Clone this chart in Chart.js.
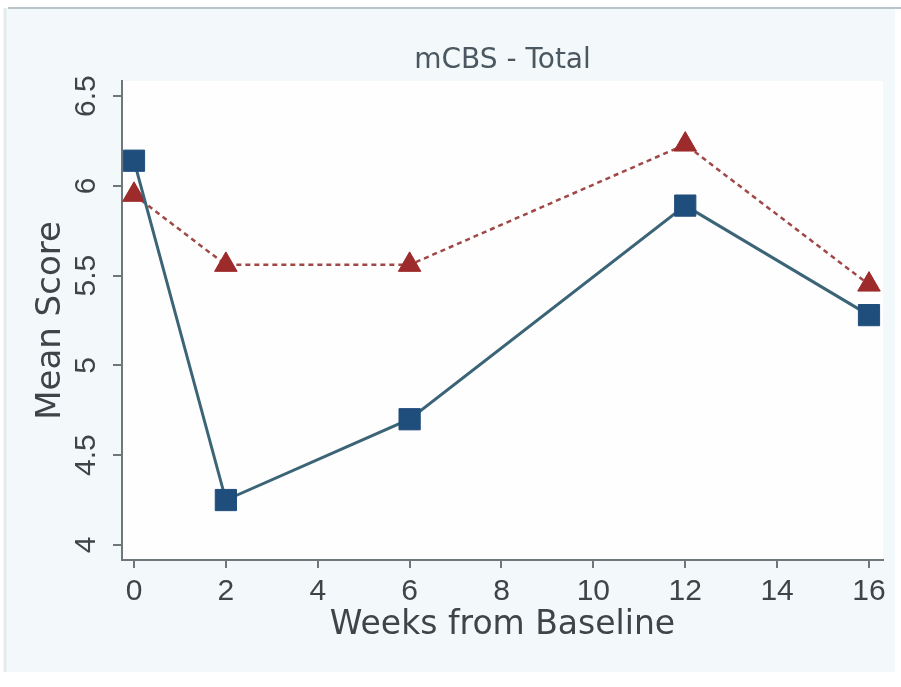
<!DOCTYPE html>
<html>
<head>
<meta charset="utf-8">
<script src="https://cdn.jsdelivr.net/npm/chart.js@4"></script>
<style>
  html, body { margin: 0; padding: 0; background: #ffffff; }
  #wrap { width: 901px; height: 687px; }
</style>
</head>
<body>
<div id="wrap"><canvas id="mcbsChart" width="901" height="687"></canvas></div>
<script>
// weeks from baseline
const semanas = [0, 2, 6, 12, 16];
// solid line, squares
const serieAzul = [6.14, 4.25, 4.70, 5.89, 5.28];
// dashed line, triangles
const serieVermelha = [5.95, 5.56, 5.56, 6.23, 5.45];

const ticksX = [0, 2, 4, 6, 8, 10, 12, 14, 16];
const ticksY = [4, 4.5, 5, 5.5, 6, 6.5];

const corTexto = '#3f4448';
const corEixo = '#6f777b';
const fonteTicks = "'Liberation Sans', Arial, sans-serif";

// light graph region + white plot region, like the stata output
const fundo = {
  id: 'fundo',
  beforeDraw(chart) {
    const ctx = chart.ctx;
    const a = chart.chartArea;
    ctx.save();
    ctx.fillStyle = '#ffffff';
    ctx.fillRect(0, 0, chart.width, chart.height);
    ctx.fillStyle = '#f3f9fa';
    ctx.fillRect(6, 8, 889, 664);
    ctx.strokeStyle = '#b9c5c9';
    ctx.lineWidth = 2;
    ctx.beginPath();
    ctx.moveTo(8, 8);
    ctx.lineTo(chart.width, 8);
    ctx.stroke();
    ctx.strokeStyle = '#e6eaeb';
    ctx.lineWidth = 3;
    ctx.beginPath();
    ctx.moveTo(5, 8);
    ctx.lineTo(5, 672);
    ctx.stroke();
    ctx.fillStyle = '#fefefe';
    ctx.fillRect(a.left, a.top, a.right - a.left, a.bottom - a.top);
    ctx.restore();
  }
};

new Chart(document.getElementById('mcbsChart'), {
  type: 'line',
  data: {
    datasets: [{
      label: 'A',
      data: semanas.map((s, i) => ({ x: s, y: serieAzul[i] })),
      borderColor: '#3b6476',
      borderWidth: 3,
      pointStyle: 'rect',
      pointRadius: 15,
      pointBackgroundColor: '#1f4d7c',
      pointBorderColor: '#1f4d7c',
      pointBorderWidth: 1,
      tension: 0
    }, {
      label: 'B',
      data: semanas.map((s, i) => ({ x: s, y: serieVermelha[i] })),
      borderColor: '#a04848',
      borderWidth: 2.5,
      borderDash: [5, 4],
      pointStyle: 'triangle',
      pointRadius: 13,
      pointBackgroundColor: '#9e2b2b',
      pointBorderColor: '#9e2b2b',
      pointBorderWidth: 1,
      tension: 0
    }]
  },
  options: {
    responsive: false,
    animation: false,
    layout: {
      autoPadding: false,
      padding: { left: 0, right: 18, top: 0, bottom: 0 }
    },
    plugins: {
      legend: { display: false },
      tooltip: { enabled: false },
      title: {
        display: true,
        text: 'mCBS - Total',
        fullSize: false,
        color: '#4b5861',
        font: { family: 'DejaVu Sans', size: 28, weight: 'normal', lineHeight: 1.2 },
        padding: { top: 44, bottom: 3.4 }
      }
    },
    scales: {
      x: {
        type: 'linear',
        min: -0.261,
        max: 16.305,
        afterBuildTicks: s => { s.ticks = ticksX.map(v => ({ value: v })); },
        afterFit: s => { s.height = 127; },
        border: { display: true, color: corEixo, width: 2 },
        grid: { drawOnChartArea: false, drawTicks: true, tickLength: 8, color: corEixo, lineWidth: 2 },
        ticks: {
          autoSkip: false,
          maxRotation: 0,
          padding: 6,
          color: corTexto,
          font: { family: fonteTicks, size: 30 },
          callback: v => String(v)
        },
        title: {
          display: true,
          text: 'Weeks from Baseline',
          color: corTexto,
          font: { family: 'DejaVu Sans', size: 33 },
          padding: { top: 0, bottom: 42 }
        }
      },
      y: {
        type: 'linear',
        min: 3.916,
        max: 6.584,
        afterBuildTicks: s => { s.ticks = ticksY.map(v => ({ value: v })); },
        afterFit: s => { s.width = 122; },
        border: { display: true, color: corEixo, width: 2 },
        grid: { drawOnChartArea: false, drawTicks: true, tickLength: 9, color: corEixo, lineWidth: 2 },
        ticks: {
          autoSkip: false,
          minRotation: 90,
          maxRotation: 90,
          crossAlign: 'center',
          padding: 5,
          color: corTexto,
          font: { family: fonteTicks, size: 30 },
          callback: v => String(v)
        },
        title: {
          display: true,
          text: 'Mean Score',
          color: corTexto,
          font: { family: 'DejaVu Sans', size: 34 },
          padding: { top: 31, bottom: 0 }
        }
      }
    }
  },
  plugins: [fundo]
});
</script>
</body>
</html>
